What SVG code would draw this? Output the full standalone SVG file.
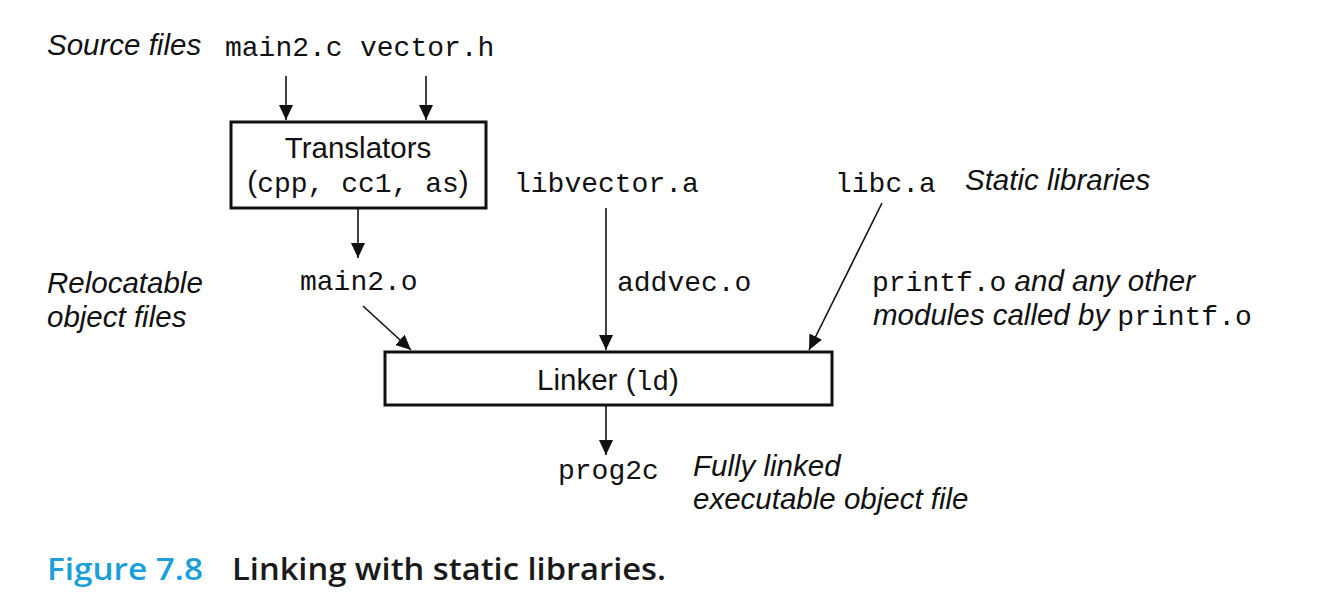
<svg xmlns="http://www.w3.org/2000/svg" width="1344" height="612" viewBox="0 0 1344 612">
<style>
.it{font-family:"Liberation Sans",Arial,sans-serif;font-style:italic;font-size:29.5px;fill:#111}
.mono{font-family:"Liberation Mono","Courier New",monospace;font-size:28px;fill:#111}
.sans{font-family:"Liberation Sans",Arial,sans-serif;font-size:29.5px;fill:#111}
.box{fill:#fff;stroke:#111;stroke-width:3}
.ln{stroke:#111;stroke-width:1.6;fill:none;marker-end:url(#ah)}
.cap{font-family:"Open Sans","Noto Sans",sans-serif;font-weight:600;font-size:31px}
</style>
<defs>
<marker id="ah" markerWidth="16" markerHeight="20" refX="15" refY="7" orient="auto" markerUnits="userSpaceOnUse">
<path d="M0,0 L15,7 L0,14 Z" fill="#111"/>
</marker>
</defs>
<rect width="1344" height="612" fill="#fff"/>
<g id="connectors">
<line class="ln" x1="286" y1="76" x2="286" y2="120"/>
<line class="ln" x1="426" y1="76" x2="426" y2="120"/>
<line class="ln" x1="358" y1="209" x2="358" y2="258"/>
<line class="ln" x1="363" y1="306" x2="411" y2="350"/>
<line class="ln" x1="606" y1="208" x2="606" y2="350"/>
<line class="ln" x1="882" y1="203" x2="809" y2="350"/>
<line class="ln" x1="606" y1="406" x2="606" y2="455"/>
</g>
<g id="source-files">
<text class="it" x="47" y="55">Source files</text>
<text class="mono" x="225" y="56">main2.c</text>
<text class="mono" x="360" y="56">vector.h</text>
</g>
<g id="translators">
<rect class="box" x="231" y="122" width="255" height="86"/>
<text class="sans" x="358" y="158" text-anchor="middle">Translators</text>
<text x="358" y="192" text-anchor="middle"><tspan class="sans">(</tspan><tspan class="mono">cpp, cc1, as</tspan><tspan class="sans">)</tspan></text>
</g>
<g id="libvector">
<text class="mono" x="514" y="192">libvector.a</text>
</g>
<g id="libc">
<text class="mono" x="835" y="192">libc.a</text>
<text class="it" x="965" y="190">Static libraries</text>
</g>
<g id="relocatable">
<text class="it" x="47" y="293">Relocatable</text>
<text class="it" x="47" y="327">object files</text>
<text class="mono" x="300" y="290">main2.o</text>
<text class="mono" x="617" y="291">addvec.o</text>
<text x="872" y="291"><tspan class="mono">printf.o</tspan><tspan class="it"> and any other</tspan></text>
<text x="873" y="325"><tspan class="it">modules called by </tspan><tspan class="mono">printf.o</tspan></text>
</g>
<g id="linker">
<rect class="box" x="385" y="352" width="447" height="53"/>
<text x="608" y="390" text-anchor="middle"><tspan class="sans">Linker (</tspan><tspan class="mono">ld</tspan><tspan class="sans">)</tspan></text>
</g>
<g id="prog2c">
<text class="mono" x="558" y="479">prog2c</text>
<text class="it" x="693" y="476">Fully linked</text>
<text class="it" x="693" y="509">executable object file</text>
</g>
<g id="caption">
<text class="cap" x="47" y="580" fill="#1a9fd8" textLength="156" lengthAdjust="spacingAndGlyphs">Figure 7.8</text>
<text class="cap" x="232" y="580" fill="#1a1a1a" font-weight="700" textLength="434" lengthAdjust="spacingAndGlyphs">Linking with static libraries.</text>
</g>
</svg>
